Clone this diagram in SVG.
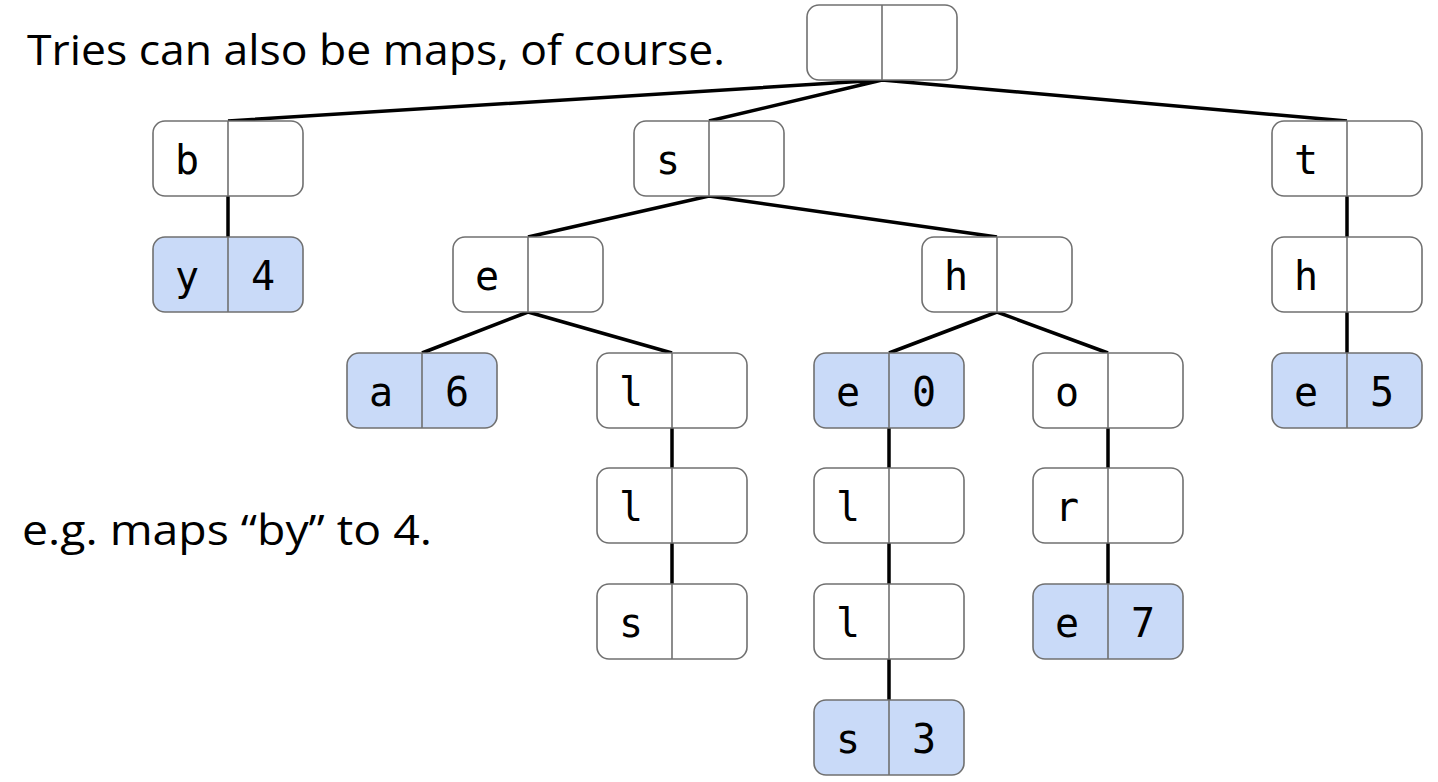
<svg xmlns="http://www.w3.org/2000/svg" width="1438" height="782" viewBox="0 0 1438 782">
<style>
.box{fill:#ffffff;stroke:#707070;stroke-width:1.6}
.val .box{fill:#c9daf8}
.div{stroke:#707070;stroke-width:1.6}
.lbl{font-family:"DejaVu Sans Mono","Liberation Mono",monospace;font-size:40px;fill:#000;text-anchor:middle}
.edge{stroke:#000;stroke-width:3.5;fill:none}
.cap{font-family:"Open Sans","Liberation Sans",sans-serif;font-size:42px;fill:#000}
</style>
<defs>
<rect id="cell" class="box" x="0" y="0" width="150" height="75" rx="12"/>
</defs>
<rect width="1438" height="782" fill="#fff"/>
<text class="cap" x="27" y="65" textLength="698" lengthAdjust="spacingAndGlyphs">Tries can also be maps, of course.</text>
<text class="cap" x="22" y="545" textLength="410" lengthAdjust="spacingAndGlyphs">e.g. maps “by” to 4.</text>
<g id="connectors">
<path class="edge" d="M882 80L228 121M882 80L709 121M882 80L1347 121"/>
<path class="edge" d="M228 196L228 237"/>
<path class="edge" d="M709 196L528 237M709 196L997 237"/>
<path class="edge" d="M1347 196L1347 237M1347 312L1347 353"/>
<path class="edge" d="M528 312L422 353M528 312L672 353"/>
<path class="edge" d="M997 312L889 353M997 312L1108 353"/>
<path class="edge" d="M672 428L672 468M672 543L672 584"/>
<path class="edge" d="M889 428L889 468M889 543L889 584M889 659L889 700"/>
<path class="edge" d="M1108 428L1108 468M1108 543L1108 584"/>
</g>
<g id="n-root" transform="translate(807,5)"><use href="#cell"/><line class="div" x1="75" y1="0" x2="75" y2="75"/></g>
<g id="n-b" transform="translate(153,121)"><use href="#cell"/><line class="div" x1="75" y1="0" x2="75" y2="75"/><text class="lbl" x="34" y="53">b</text></g>
<g id="n-s" transform="translate(634,121)"><use href="#cell"/><line class="div" x1="75" y1="0" x2="75" y2="75"/><text class="lbl" x="34" y="53">s</text></g>
<g id="n-t" transform="translate(1272,121)"><use href="#cell"/><line class="div" x1="75" y1="0" x2="75" y2="75"/><text class="lbl" x="34" y="53">t</text></g>
<g id="n-by" class="val" transform="translate(153,237)"><rect class="box" x="0" y="0" width="150" height="75" rx="12"/><line class="div" x1="75" y1="0" x2="75" y2="75"/><text class="lbl" x="34" y="53">y</text><text class="lbl" x="110" y="53">4</text></g>
<g id="n-se" transform="translate(453,237)"><use href="#cell"/><line class="div" x1="75" y1="0" x2="75" y2="75"/><text class="lbl" x="34" y="53">e</text></g>
<g id="n-sh" transform="translate(922,237)"><use href="#cell"/><line class="div" x1="75" y1="0" x2="75" y2="75"/><text class="lbl" x="34" y="53">h</text></g>
<g id="n-th" transform="translate(1272,237)"><use href="#cell"/><line class="div" x1="75" y1="0" x2="75" y2="75"/><text class="lbl" x="34" y="53">h</text></g>
<g id="n-sea" class="val" transform="translate(347,353)"><rect class="box" x="0" y="0" width="150" height="75" rx="12"/><line class="div" x1="75" y1="0" x2="75" y2="75"/><text class="lbl" x="34" y="53">a</text><text class="lbl" x="110" y="53">6</text></g>
<g id="n-sel" transform="translate(597,353)"><use href="#cell"/><line class="div" x1="75" y1="0" x2="75" y2="75"/><text class="lbl" x="34" y="53">l</text></g>
<g id="n-she" class="val" transform="translate(814,353)"><rect class="box" x="0" y="0" width="150" height="75" rx="12"/><line class="div" x1="75" y1="0" x2="75" y2="75"/><text class="lbl" x="34" y="53">e</text><text class="lbl" x="110" y="53">0</text></g>
<g id="n-sho" transform="translate(1033,353)"><use href="#cell"/><line class="div" x1="75" y1="0" x2="75" y2="75"/><text class="lbl" x="34" y="53">o</text></g>
<g id="n-the" class="val" transform="translate(1272,353)"><rect class="box" x="0" y="0" width="150" height="75" rx="12"/><line class="div" x1="75" y1="0" x2="75" y2="75"/><text class="lbl" x="34" y="53">e</text><text class="lbl" x="110" y="53">5</text></g>
<g id="n-sell" transform="translate(597,468)"><use href="#cell"/><line class="div" x1="75" y1="0" x2="75" y2="75"/><text class="lbl" x="34" y="53">l</text></g>
<g id="n-shel" transform="translate(814,468)"><use href="#cell"/><line class="div" x1="75" y1="0" x2="75" y2="75"/><text class="lbl" x="34" y="53">l</text></g>
<g id="n-shor" transform="translate(1033,468)"><use href="#cell"/><line class="div" x1="75" y1="0" x2="75" y2="75"/><text class="lbl" x="34" y="53">r</text></g>
<g id="n-sells" transform="translate(597,584)"><use href="#cell"/><line class="div" x1="75" y1="0" x2="75" y2="75"/><text class="lbl" x="34" y="53">s</text></g>
<g id="n-shell" transform="translate(814,584)"><use href="#cell"/><line class="div" x1="75" y1="0" x2="75" y2="75"/><text class="lbl" x="34" y="53">l</text></g>
<g id="n-shore" class="val" transform="translate(1033,584)"><rect class="box" x="0" y="0" width="150" height="75" rx="12"/><line class="div" x1="75" y1="0" x2="75" y2="75"/><text class="lbl" x="34" y="53">e</text><text class="lbl" x="110" y="53">7</text></g>
<g id="n-shells" class="val" transform="translate(814,700)"><rect class="box" x="0" y="0" width="150" height="75" rx="12"/><line class="div" x1="75" y1="0" x2="75" y2="75"/><text class="lbl" x="34" y="53">s</text><text class="lbl" x="110" y="53">3</text></g>
</svg>
